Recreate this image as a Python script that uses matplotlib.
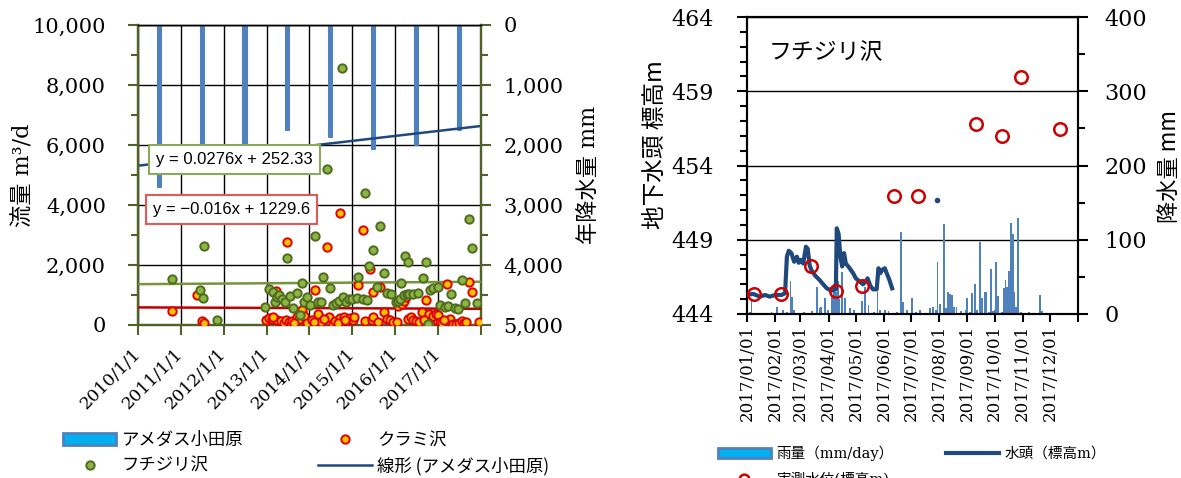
import numpy as np
import pandas as pd
import matplotlib
matplotlib.use('Agg')
import matplotlib.pyplot as plt
import matplotlib.dates as mdates
from matplotlib.ticker import MultipleLocator, FuncFormatter
from matplotlib.patches import Patch
from matplotlib.lines import Line2D

SERIF = ['DejaVu Serif', 'Noto Sans CJK JP']
GOTH = ['Noto Sans CJK JP', 'DejaVu Sans']

# ---------------- left panel data ----------------
rain_year = [2010, 2011, 2012, 2013, 2014, 2015, 2016, 2017]
rain_year_mm = [2700, 2300, 2200, 1750, 1860, 2070, 2000, 1750]

fuchi_t = [2010.80, 2011.45, 2011.51, 2011.54, 2011.84, 2012.96, 2013.06, 2013.14, 2013.20, 2013.24,
           2013.30, 2013.36, 2013.42, 2013.48, 2013.55, 2013.62, 2013.70, 2013.78, 2013.82, 2013.88,
           2013.95, 2014.02, 2014.14, 2014.20, 2014.26, 2014.32, 2014.42, 2014.48, 2014.56, 2014.62,
           2014.68, 2014.76, 2014.78, 2014.86, 2014.92, 2015.00, 2015.10, 2015.14, 2015.25, 2015.29,
           2015.35, 2015.39, 2015.49, 2015.57, 2015.64, 2015.75, 2015.80, 2015.90, 2016.02, 2016.06,
           2016.12, 2016.13, 2016.21, 2016.23, 2016.27, 2016.31, 2016.33, 2016.42, 2016.54, 2016.65,
           2016.71, 2016.77, 2016.81, 2016.89, 2016.99, 2017.04, 2017.16, 2017.24, 2017.30, 2017.39,
           2017.47, 2017.55, 2017.64, 2017.72, 2017.80, 2017.90]
fuchi_q = [1530, 1150, 910, 2640, 170, 610, 1200, 1110, 780, 940,
           1000, 870, 780, 2220, 950, 560, 1050, 330, 1390, 780,
           940, 670, 2970, 780, 760, 1590, 5200, 1220, 670, 720,
           800, 8580, 920, 750, 850, 880, 900, 1590, 850, 4390,
           830, 1980, 2500, 1260, 3300, 1720, 1080, 1030, 760, 800,
           880, 1390, 1000, 2300, 1030, 2090, 1030, 1030, 1060, 1560,
           2110, 30, 1170, 1220, 1260, 670, 610, 630, 1020, 560,
           520, 1500, 740, 3530, 2580, 720]

kurami_t = [2010.79, 2011.38, 2011.49, 2011.54, 2012.98, 2013.05, 2013.12, 2013.23, 2013.25, 2013.33,
            2013.40, 2013.45, 2013.48, 2013.52, 2013.56, 2013.60, 2013.70, 2013.76, 2013.82, 2013.87,
            2013.95, 2014.06, 2014.14, 2014.20, 2014.28, 2014.40, 2014.45, 2014.55, 2014.60, 2014.71,
            2014.72, 2014.80, 2014.88, 2014.95, 2015.02, 2015.14, 2015.24, 2015.30, 2015.41, 2015.45,
            2015.48, 2015.49, 2015.64, 2015.75, 2015.82, 2015.88, 2015.95, 2016.05, 2016.07, 2016.15,
            2016.21, 2016.26, 2016.30, 2016.36, 2016.42, 2016.48, 2016.63, 2016.71, 2016.80, 2016.82,
            2016.88, 2016.95, 2017.00, 2017.05, 2017.10, 2017.22, 2017.28, 2017.36, 2017.42, 2017.48,
            2017.55, 2017.72, 2017.80, 2017.96,
            2013.15, 2013.65, 2014.10, 2014.35, 2014.66, 2014.84, 2015.05, 2015.60, 2016.55, 2016.68,
            2017.15, 2017.60, 2017.66]
kurami_q = [470, 1000, 140, 80, 150, 220, 200, 1140, 180, 120,
            60, 170, 2760, 100, 30, 130, 250, 200, 500, 300,
            80, 160, 1170, 350, 100, 2590, 280, 30, 140, 3720,
            220, 250, 120, 230, 180, 1330, 3170, 130, 1860, 150,
            1110, 280, 1260, 440, 200, 150, 100, 90, 630, 700,
            810, 940, 200, 250, 180, 120, 440, 830, 350, 30,
            300, 350, 320, 100, 80, 1360, 200, 30, 40, 80,
            130, 1440, 1110, 100,
            250, 80, 90, 200, 60, 180, 250, 90, 100, 150,
            180, 60, 90]

# Excel trend lines (x = Excel date serial)
fuchi_trend = (0.0276, 252.33)
kurami_trend = (-0.016, 1229.6)
rain_trend = (-0.2266, 11450.0)

# ---------------- right panel data ----------------
base_day = pd.Timestamp('2017-01-01')
rain_day = [3, 5, 12, 19, 27, 33, 35, 40, 44, 48, 50, 52, 58, 63, 72, 77, 80, 82, 86, 89,
            94, 96, 98, 100, 102, 105, 108, 114, 118, 122, 127, 130, 134, 140, 144, 147, 152, 156, 161, 165,
            170, 172, 176, 179, 182, 186, 191, 196, 202, 205, 208, 210, 213, 217, 219, 222, 224, 226, 228, 231,
            236, 238, 241, 243, 246, 248, 251, 254, 257, 259, 262, 264, 267, 269, 271, 273, 275, 277, 281, 283,
            285, 287, 289, 291, 293, 295, 297, 299, 302, 305, 309, 311, 313, 318, 323, 325, 333, 337, 341]
rain_daily = [3, 19, 2, 1, 3, 9, 2, 5, 3, 44, 23, 6, 2, 3, 4, 37, 8, 10, 22, 5,
              25, 40, 30, 45, 20, 57, 22, 8, 5, 2, 17, 37, 12, 3, 30, 5, 6, 4, 2, 3,
              110, 16, 6, 2, 22, 3, 6, 1, 8, 9, 6, 70, 13, 121, 8, 29, 27, 25, 10, 10,
              4, 2, 5, 22, 3, 28, 40, 6, 97, 22, 29, 30, 3, 60, 4, 5, 70, 24, 3, 35,
              46, 36, 58, 123, 108, 30, 10, 129, 3, 1, 2, 3, 2, 1, 26, 4, 1, 1, 2]

head_day = [0, 7, 14, 20, 25, 31, 38, 42, 44, 46, 49, 52, 55, 57, 59, 62, 65, 67, 69, 71,
            75, 80, 84, 88, 93, 98, 99, 101, 103, 105, 107, 109, 113, 117, 120, 124, 128, 131, 133, 136,
            139, 143, 145, 147, 149, 152, 154, 157, 160]
head_m = [445.3, 445.35, 445.17, 445.28, 445.17, 445.28, 445.28, 445.4, 447.86, 448.26,
          448.1, 447.52, 447.86, 447.45, 447.65, 447.4, 448.53, 448.4, 447.3, 446.96,
          446.6, 446.29, 446.0, 445.73, 445.57, 445.66, 449.77, 449.4, 447.86, 447.2,
          448.1, 447.4, 447.1, 446.75, 446.4, 446.2, 446.0, 446.2, 446.4, 445.9,
          445.66, 445.66, 447.08, 446.75, 446.97, 447.08, 446.75, 446.3, 445.73]
head_spot_day = [209]
head_spot_m = [451.7]

obs_date = ['2017-01-09', '2017-02-07', '2017-03-13', '2017-04-09', '2017-05-08', '2017-06-12',
            '2017-07-09', '2017-09-11', '2017-10-09', '2017-10-30', '2017-12-12']
obs_m = [445.35, 445.35, 447.25, 445.55, 445.89, 451.95, 451.95, 456.8, 456.0, 459.98, 456.48]


def dec_year(y):
    y = np.asarray(y, dtype=float)
    yr = np.floor(y).astype(int)
    return pd.to_datetime([pd.Timestamp(year=int(a), month=1, day=1) + pd.Timedelta(days=(b - a) * 365.25)
                           for a, b in zip(yr, y)])


def serial(d):
    return (pd.to_datetime(d) - pd.Timestamp('1899-12-30')).days.values


OLIVE = '#4F6228'

fig = plt.figure(figsize=(11.81, 4.78), dpi=100)

# ================= left panel =================
pos_l = [0.1168, 0.3201, 0.2904, 0.6276]
ax2 = fig.add_axes(pos_l)                   # annual rainfall (behind)
ax1 = fig.add_axes(pos_l, sharex=ax2)       # spring flow (front)
ax1.patch.set_visible(False)

x0, x1 = pd.Timestamp('2010-01-01'), pd.Timestamp('2018-01-01')

bar_dates = pd.to_datetime([f'{y}-07-01' for y in rain_year])
ax2.bar(bar_dates, rain_year_mm, width=26, color='#4F81BD', edgecolor='#4F81BD', lw=1.5,
        joinstyle='round', zorder=2)
tr_x = pd.to_datetime([x0, x1])
ax2.plot(tr_x, rain_trend[0] * serial(tr_x) + rain_trend[1], color='#1F497D', lw=1.8, zorder=3)
ax2.set_ylim(5000, 0)
ax2.yaxis.tick_right()
ax2.yaxis.set_label_position('right')
ax2.yaxis.set_major_locator(MultipleLocator(1000))
ax2.yaxis.set_minor_locator(MultipleLocator(500))
ax2.yaxis.set_major_formatter(FuncFormatter(lambda v, p: f'{v:,.0f}'))
ax2.grid(True, which='major', color='black', lw=1, zorder=0)
ax2.set_axisbelow(True)
for lab in ax2.get_yticklabels():
    lab.set_fontfamily('DejaVu Serif')
ax2.tick_params(axis='y', which='major', labelsize=15, length=7, width=1.5, color=OLIVE, pad=9)
ax2.tick_params(axis='y', which='minor', length=5, width=1.5, color=OLIVE)
ax2.set_ylabel('年降水量 mm', family=SERIF, fontsize=16)
ax2.yaxis.set_label_coords(1.282, 0.5)
ax2.tick_params(axis='x', labelbottom=False, length=0)

ax1.yaxis.tick_left()
ax1.plot(dec_year(kurami_t), kurami_q, 'o', ms=6, mfc='#FFC000', mec='#E00000', mew=1.4, zorder=4)
ax1.plot(dec_year(fuchi_t), fuchi_q, 'o', ms=6, mfc='#8DB542', mec='#4E6B1F', mew=1.4, zorder=5)
ax1.plot(tr_x, fuchi_trend[0] * serial(tr_x) + fuchi_trend[1], color='#77933C', lw=1.8, zorder=3)
ax1.plot(tr_x, kurami_trend[0] * serial(tr_x) + kurami_trend[1], color='#C00000', lw=1.8, zorder=3)
ax1.set_ylim(0, 10000)
ax1.set_xlim(x0, x1)
ax1.yaxis.set_major_locator(MultipleLocator(2000))
ax1.yaxis.set_minor_locator(MultipleLocator(1000))
ax1.yaxis.set_major_formatter(FuncFormatter(lambda v, p: f'{v:,.0f}'))
ax1.xaxis.set_major_locator(mdates.YearLocator())
ax1.xaxis.set_major_formatter(FuncFormatter(
    lambda v, p: '' if mdates.num2date(v).year >= 2018 else f'{mdates.num2date(v).year}/1/1'))
ax1.tick_params(axis='y', which='major', labelsize=15, length=7, width=1.5, color=OLIVE, pad=16)
ax1.tick_params(axis='y', which='minor', length=5, width=1.5, color=OLIVE)
ax1.tick_params(axis='x', labelsize=12.5, length=7, width=1.5, color=OLIVE, pad=12)
for lab in ax1.get_yticklabels():
    lab.set_fontfamily('DejaVu Serif')
for lab in ax1.get_xticklabels():
    lab.set_fontfamily('DejaVu Serif')
    lab.set_rotation(45)
    lab.set_ha('right')
    lab.set_va('center')
    lab.set_rotation_mode('anchor')
ax1.set_ylabel('流量 m³/d', family=SERIF, fontsize=16)
ax1.yaxis.set_label_coords(-0.303, 0.5)
for ax in (ax1, ax2):
    for s in ('left', 'right', 'bottom'):
        ax.spines[s].set_color(OLIVE)
        ax.spines[s].set_linewidth(1.6)
    ax.spines['top'].set_color('black')
    ax.spines['top'].set_linewidth(1)

ax1.text(0.2813, 0.5533, 'y = 0.0276x + 252.33', transform=ax1.transAxes, ha='center', va='center',
         fontsize=12, family='Liberation Sans', zorder=10,
         bbox=dict(boxstyle='square,pad=0.42', fc='white', ec='#8CA85A', lw=1.5))
ax1.text(0.2726, 0.385, 'y = \u22120.016x + 1229.6', transform=ax1.transAxes, ha='center', va='center',
         fontsize=12, family='Liberation Sans', zorder=10,
         bbox=dict(boxstyle='square,pad=0.42', fc='white', ec='#E05A5A', lw=1.5))

h_rain = Patch(facecolor='#00B0F0', edgecolor='#4F81BD', lw=2)
h_fuchi = Line2D([], [], ls='', marker='o', ms=6, mfc='#8DB542', mec='#4E6B1F', mew=1.4)
h_kurami = Line2D([], [], ls='', marker='o', ms=6, mfc='#FFC000', mec='#E00000', mew=1.4)
h_trend = Line2D([], [], color='#1F497D', lw=1.8)
fig.legend([h_rain, h_fuchi, h_kurami, h_trend],
           ['アメダス小田原', 'フチジリ沢', 'クラミ沢', '線形 (アメダス小田原)'],
           ncol=2, loc='upper left', bbox_to_anchor=(0.053, 0.098), frameon=False,
           prop={'family': GOTH, 'size': 12.5}, handlelength=3.1, handletextpad=0.3,
           columnspacing=4.3, borderpad=0, borderaxespad=0, labelspacing=0.45)

# ================= right panel =================
pos_r = [0.6325, 0.3431, 0.2803, 0.6213]
ax4 = fig.add_axes(pos_r)                   # daily rain (behind)
ax3 = fig.add_axes(pos_r, sharex=ax4)       # groundwater head (front)
ax3.patch.set_visible(False)

rd = base_day + pd.to_timedelta(rain_day, unit='D')
ax4.bar(rd, rain_daily, width=2.0, color='#4F81BD', zorder=2)
ax4.set_ylim(0, 400)
ax4.yaxis.tick_right()
ax4.yaxis.set_label_position('right')
ax4.yaxis.set_major_locator(MultipleLocator(100))
ax4.yaxis.set_minor_locator(MultipleLocator(50))
ax4.tick_params(axis='y', which='major', labelsize=16, length=7, width=1.5, color='black', pad=12)
ax4.tick_params(axis='y', which='minor', length=5, width=1.5)
for lab in ax4.get_yticklabels():
    lab.set_fontfamily('DejaVu Serif')
ax4.grid(True, axis='y', which='major', color='black', lw=1, zorder=0)
ax4.set_axisbelow(True)
ax4.set_ylabel('降水量 mm', family=GOTH, fontsize=16)
ax4.yaxis.set_label_coords(1.242, 0.497)
ax4.tick_params(axis='x', labelbottom=False, length=0)

hd = base_day + pd.to_timedelta(head_day, unit='D')
ax3.plot(hd, head_m, color='#1F497D', lw=3, zorder=4)
ax3.plot(base_day + pd.to_timedelta(head_spot_day, unit='D'), head_spot_m, 'o', ms=3,
         color='#1F497D', zorder=4)
ax3.plot(pd.to_datetime(obs_date), obs_m, 'o', ms=9, mfc='none', mec='#D00000', mew=1.8, zorder=5)
ax3.set_ylim(444, 464)
ax3.set_xlim(pd.Timestamp('2017-01-01'), pd.Timestamp('2018-01-01'))
ax3.yaxis.set_major_locator(MultipleLocator(5, offset=4))
ax3.yaxis.set_minor_locator(MultipleLocator(1))
ax3.xaxis.set_major_locator(mdates.MonthLocator())
ax3.xaxis.set_major_formatter(FuncFormatter(
    lambda v, p: '' if mdates.num2date(v).year >= 2018 else mdates.num2date(v).strftime('%Y/%m/%d')))
ax3.tick_params(axis='y', which='major', labelsize=16, length=7, width=1.5, pad=17)
ax3.tick_params(axis='y', which='minor', length=5, width=1.5)
ax3.tick_params(axis='x', labelsize=12, length=6, width=1.5, pad=2, labelrotation=90)
for lab in ax3.get_yticklabels() + ax3.get_xticklabels():
    lab.set_fontfamily('DejaVu Serif')
ax3.set_ylabel('地下水頭 標高m', family=GOTH, fontsize=17)
ax3.yaxis.set_label_coords(-0.242, 0.569)
for ax in (ax3, ax4):
    for s in ax.spines.values():
        s.set_linewidth(1.5)
ax3.text(0.066, 0.879, 'フチジリ沢', transform=ax3.transAxes, ha='left', va='center',
         fontsize=16.5, family=GOTH)

h_r = Patch(facecolor='#00B0F0', edgecolor='#4F81BD', lw=2)
h_obs = Line2D([], [], ls='', marker='o', ms=7, mfc='none', mec='#D00000', mew=1.8)
h_head = Line2D([], [], color='#1F497D', lw=3)
fig.legend([h_r, h_obs, h_head], ['雨量（mm/day）', '実測水位(標高m)', '水頭（標高m）'],
           ncol=2, loc='upper left', bbox_to_anchor=(0.608, 0.068), frameon=False,
           prop={'family': SERIF, 'size': 10.5}, handlelength=3.6, handletextpad=0.4,
           columnspacing=3.6, borderpad=0, borderaxespad=0, labelspacing=0.8)

fig.savefig('out.png', dpi=100)
